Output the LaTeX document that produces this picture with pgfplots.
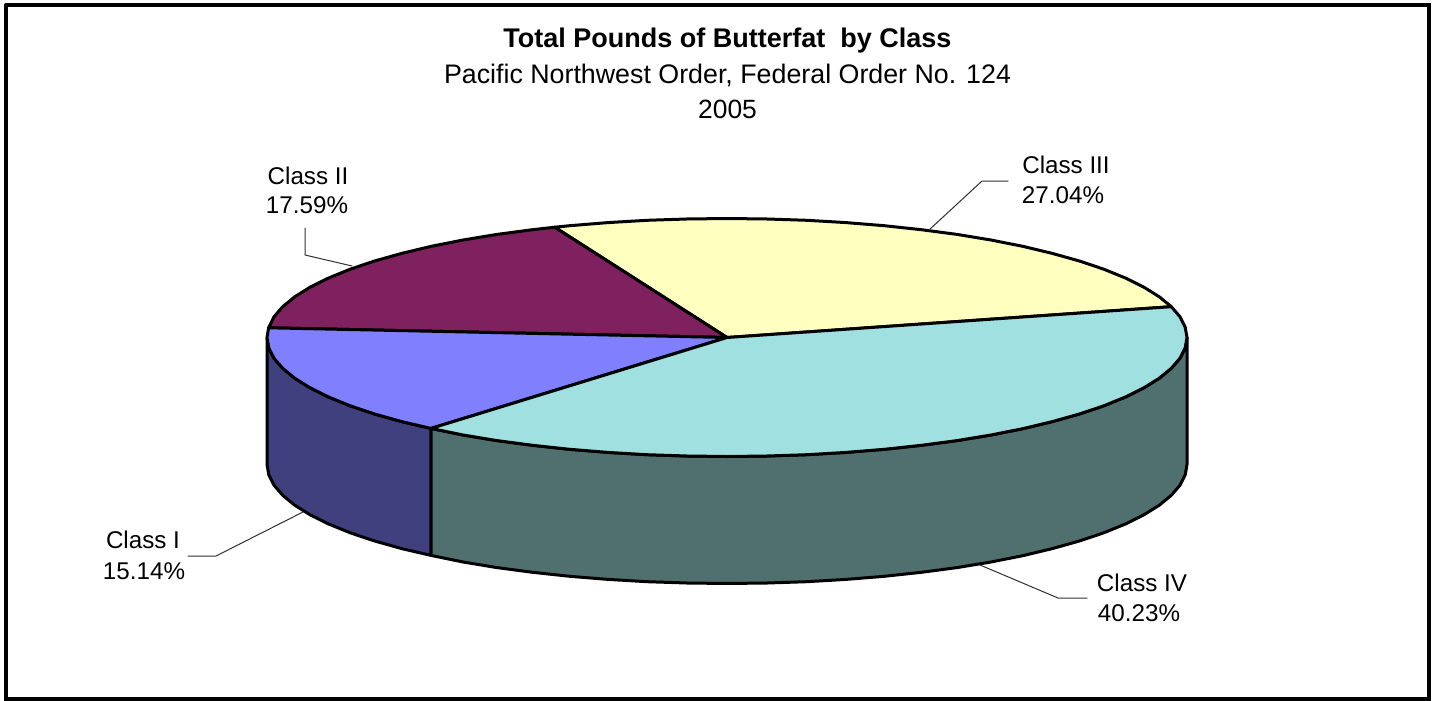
\documentclass[border=0pt]{standalone}
\usepackage{fontspec}
\setmainfont{Liberation Sans}
\usepackage{pgfplots}
\pgfplotsset{compat=1.18}
\definecolor{cIIItop}{HTML}{FFFFC0}
\definecolor{cIItop}{HTML}{7F205F}
\definecolor{cItop}{HTML}{8080FF}
\definecolor{cIside}{HTML}{40407F}
\definecolor{cIVtop}{HTML}{A1E0E0}
\definecolor{cIVside}{HTML}{507070}
\definecolor{leader}{HTML}{303030}
\tikzset{
  pie/.style={draw=black, line width=1.5pt},
  lead/.style={draw=leader, line width=0.5pt},
  lab/.style={font=\fontsize{12.1}{14}\selectfont, align=center, anchor=center, text=black},
}
\begin{document}
\begin{tikzpicture}
\begin{axis}[
  scale only axis, width=717.5pt, height=350pt,
  xmin=0, xmax=1435, ymin=0, ymax=700, y dir=reverse,
  hide axis, clip=false,
  every axis plot/.append style={line join=round, line cap=round, no markers},
]
% page
\addplot[fill=white, draw=none] coordinates {(0,0) (1435,0) (1435,700) (0,700)} \closedcycle;
% frame
\addplot[draw=black, line width=2pt, line join=miter] coordinates {(6,5) (1429,5) (1429,698.5) (6,698.5) (6,5)};
% Class I side
\addplot[pie, fill=cIside] coordinates {
(267,337.5) (268.8,347.9) (274,358.2) (282.7,368.3) (294.7,378.2) (310.1,387.8) (328.6,397) (350.2,405.8) (374.6,414) (401.7,421.6) (431,428.4)
(431,555.4) (401.7,548.6) (374.6,541) (350.2,532.8) (328.6,524) (310.1,514.8) (294.7,505.2) (282.7,495.3) (274,485.2) (268.8,474.9) (267,464.5) (267,337.5)};
% Class IV side
\addplot[pie, fill=cIVside] coordinates {
(431,428.4) (463.1,435) (497,440.6) (532.6,445.3) (569.7,449.3) (608,452.4) (647.1,454.7) (686.9,456) (727,456.5) (767.1,456) (806.9,454.7) (846,452.4) (884.3,449.3) (921.4,445.3) (957,440.6) (990.9,435) (1022.7,428.7) (1052.3,421.6) (1079.4,414) (1103.8,405.8) (1125.4,397) (1143.9,387.8) (1159.3,378.2) (1171.3,368.3) (1180,358.2) (1185.2,347.9) (1187,337.5)
(1187,464.5) (1185.2,474.9) (1180,485.2) (1171.3,495.3) (1159.3,505.2) (1143.9,514.8) (1125.4,524) (1103.8,532.8) (1079.4,541) (1052.3,548.6) (1022.7,555.7) (990.9,562) (957,567.6) (921.4,572.3) (884.3,576.3) (846,579.4) (806.9,581.7) (767.1,583) (727,583.5) (686.9,583) (647.1,581.7) (608,579.4) (569.7,576.3) (532.6,572.3) (497,567.6) (463.1,562) (431,555.4) (431,428.4)};
% Class III top
\addplot[pie, fill=cIIItop] coordinates {
(727,337.5) (1171.3,306.7) (1159.3,296.8) (1143.9,287.2) (1125.4,278) (1103.8,269.2) (1079.4,261) (1052.3,253.4) (1022.7,246.3) (990.9,240) (957,234.4) (921.4,229.7) (884.3,225.7) (846,222.6) (806.9,220.3) (767.1,219) (727,218.5) (686.9,219) (647.1,220.3) (608,222.6) (569.7,225.7) (554.7,227.2) (727,337.5)};
% Class II top
\addplot[pie, fill=cIItop] coordinates {
(727,337.5) (554.7,227.2) (532.6,229.7) (497,234.4) (463.1,240) (431.3,246.3) (401.7,253.4) (374.6,261) (350.2,269.2) (328.6,278) (310.1,287.2) (294.7,296.8) (282.7,306.7) (274,316.8) (268.6,327.8) (727,337.5)};
% Class I top
\addplot[pie, fill=cItop] coordinates {
(727,337.5) (268.6,327.8) (267,337.5) (268.8,347.9) (274,358.2) (282.7,368.3) (294.7,378.2) (310.1,387.8) (328.6,397) (350.2,405.8) (374.6,414) (401.7,421.6) (431,428.4) (727,337.5)};
% Class IV top
\addplot[pie, fill=cIVtop] coordinates {
(727,337.5) (431,428.4) (463.1,435) (497,440.6) (532.6,445.3) (569.7,449.3) (608,452.4) (647.1,454.7) (686.9,456) (727,456.5) (767.1,456) (806.9,454.7) (846,452.4) (884.3,449.3) (921.4,445.3) (957,440.6) (990.9,435) (1022.7,428.7) (1052.3,421.6) (1079.4,414) (1103.8,405.8) (1125.4,397) (1143.9,387.8) (1159.3,378.2) (1171.3,368.3) (1180,358.2) (1185.2,347.9) (1187,337.5) (1185.2,327.1) (1180,316.8) (1171.3,306.7) (727,337.5)};
% leader lines
\addplot[lead] coordinates {(303,512) (216,556) (188,556)};
\addplot[lead] coordinates {(980,565) (1058,598) (1087,598)};
\addplot[lead] coordinates {(929,230) (982,181) (1008,181)};
\addplot[lead] coordinates {(352,266) (305,255) (305,228)};
% titles
\node[font=\fontsize{13.5}{15}\selectfont\bfseries, anchor=center] at (axis cs:727.5,41) {Total Pounds of Butterfat\ \ by Class};
\node[font=\fontsize{13.4}{15}\selectfont, anchor=center] at (axis cs:727.5,76) {Pacific Northwest Order, Federal Order No. 124};
\node[font=\fontsize{13.2}{15}\selectfont, anchor=center] at (axis cs:727.5,109) {2005};
% labels
\node[lab] at (axis cs:308,176) {Class II};
\node[lab] at (axis cs:307,205) {17.59\%};
\node[lab] at (axis cs:143,540) {Class I};
\node[lab] at (axis cs:144,571) {15.14\%};
\node[lab] at (axis cs:1142,583) {Class IV};
\node[lab] at (axis cs:1139,613) {40.23\%};
\node[lab] at (axis cs:1066,165) {Class III};
\node[lab] at (axis cs:1063,195) {27.04\%};
\end{axis}
\end{tikzpicture}
\end{document}
